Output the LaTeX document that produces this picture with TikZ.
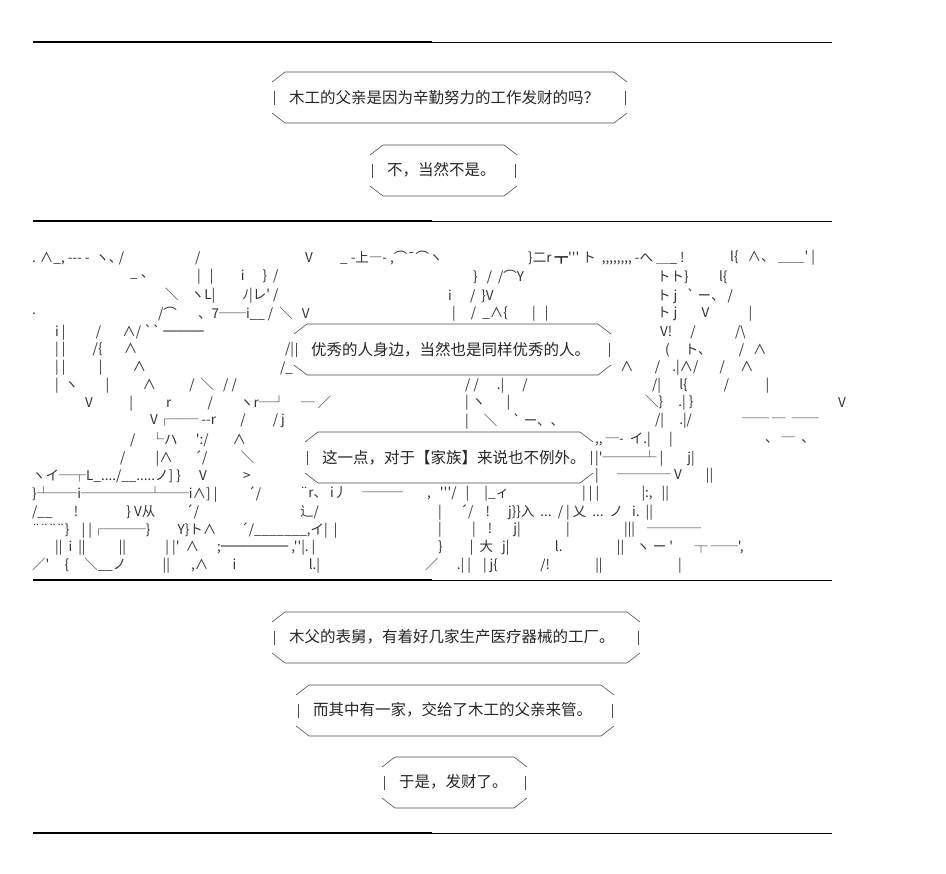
\documentclass[tikz,border=0pt]{standalone}
\usepackage{fontspec}
\setmainfont{Noto Sans CJK SC}
\newfontfamily\artfont{Noto Sans CJK SC}
\usetikzlibrary{positioning}

\tikzset{
  caption/.style={font=\fontsize{15.5}{17}\selectfont, inner sep=0pt, anchor=west, text=black!85},
  frame/.style={line width=0.6pt, draw=black!70},
  rule/.style={line width=1.4pt},
  art/.style={font=\artfont\fontsize{13.5}{15}\selectfont, anchor=west, inner sep=0pt, text=black!80},
}
% octagon box, sides left open for the bar glyphs
\newcommand{\talkbox}[3]{%
  \draw[frame] (#1,#2+10) -- (#1+13,#2) -- (#3-13,#2) -- (#3,#2+10);
  \draw[frame] (#1,#2+41) -- (#1+13,#2+51) -- (#3-13,#2+51) -- (#3,#2+41);
  \draw[frame] (#1+2,#2+19) -- (#1+2,#2+33);
  \draw[frame] (#3-2,#2+19) -- (#3-2,#2+33);}
\newcommand{\artline}[3]{\node[art] at (#1,#2) {#3};}

\begin{document}
\begin{tikzpicture}[x=1pt,y=-1pt]
  \useasboundingbox (0,0) rectangle (946,874);

  % horizontal rules
  \foreach \yy in {42,221,580,833} {
    \draw[rule] (33,\yy) -- (432,\yy);
    \draw[line width=0.8pt] (432,\yy) -- (832,\yy);
  }

  % top captions
  \talkbox{272}{72}{627}
  \node (q1) [caption] at (289,98) {木工的父亲是因为辛勤努力的工作发财的吗？};
  \talkbox{370}{145}{517}
  \node (a1) [caption] at (387,170) {不，当然不是。};

  % the scene
  \artline{32}{258}{. ∧\_, --- -\ \ ヽ､ /}
  \artline{195}{258}{/}
  \artline{305}{258}{V}
  \artline{340}{258}{\_ -上―- ,⌒¯⌒ヽ}
  \artline{528}{258}{\}二r ┳''' ト\ \ ,,,,,,,, -へ ＿\_ !}
  \artline{730}{258}{l\{\ \ \ ∧、 ＿＿'\ |}
  \artline{130}{277}{\_ 、}
  \artline{197}{277}{|\ \ \ |\ \ \ \ \ \ \ \ \ i\ \ \ \ \ \ \}\ \ /}
  \artline{473}{277}{\}\ \ \ /\ \ /⌒Y}
  \artline{657}{277}{トト\}\ \ \ \ \ \ \ \ \ \ l\{}
  \artline{165}{296}{＼\ \ \ \ ヽL|\ \ \ \ \ \ \ \ \ ﾉ|レ' /}
  \artline{448}{296}{i\ \ \ \ \ \ /\ \ \}V}
  \artline{657}{296}{ト j\ \ \ ` ー、 /}
  \artline{32}{314}{.}
  \artline{158}{314}{/⌒\ \ \ \ \ \ \ 、7──i\_\_ /\ \ ＼\ \ \ V}
  \artline{452}{314}{|\ \ \ \ \ /\ \ \_∧\{\ \ \ \ \ \ \ \ |\ \ \ |}
  \artline{657}{314}{ト j\ \ \ \ \ \ \ \ V\ \ \ \ \ \ \ \ \ \ \ \ \ |}
  \artline{55}{332}{i |\ \ \ \ \ \ \ \ \ \ /\ \ \ \ \ \ \ ∧/ `` ═══}
  \artline{660}{332}{V!\ \ \ \ \ \ /\ \ \ \ \ \ \ \ \ \ \ \ \ /\textbackslash}
  \artline{55}{350}{| |\ \ \ \ \ \ \ \ \ /\{\ \ \ \ \ \ \ ∧}
  \artline{285}{350}{/|}
  \artline{665}{350}{(\ \ \ \ \ ト、\ \ \ \ \ \ \ \ \ /\ \ \ ∧}
  \artline{55}{368}{| |\ \ \ \ \ \ \ \ \ \ \ |\ \ \ \ \ \ \ \ \ \ ∧}
  \artline{280}{368}{/\_}
  \artline{620}{368}{∧\ \ \ \ \ \ \ /\ \ \ \ .|∧/\ \ \ \ \ \ \ /\ \ \ \ \ ∧}
  \artline{55}{386}{|\ \ ヽ\ \ \ \ \ \ \ \ \ |\ \ \ \ \ \ \ \ \ \ \ ∧\ \ \ \ \ \ \ \ \ \ \ /\ \ ＼\ \ \ /\ /}
  \artline{465}{386}{/ /\ \ \ \ \ \ .|\ \ \ \ \ \ /}
  \artline{652}{386}{/|\ \ \ \ \ \ l\{\ \ \ \ \ \ \ \ \ \ \ \ /\ \ \ \ \ \ \ \ \ \ \ \ |}
  \artline{85}{403}{V\ \ \ \ \ \ \ \ \ \ \ \ |\ \ \ \ \ \ \ \ \ \ \ r\ \ \ \ \ \ \ \ \ \ \ \ /\ \ \ \ \ \ \ \ \ ヽr─┘\ \ \ \ \ ─ ／}
  \artline{465}{403}{|\ ヽ\ \ \ \ \ \ \ |}
  \artline{645}{403}{＼\}\ \ \ \ \ .|\ \}}
  \artline{838}{403}{V}
  \artline{150}{421}{V┌── --r\ \ \ \ \ \ \ \ /\ \ \ \ \ \ \ \ \ / j}
  \artline{465}{421}{|\ \ \ \ \ ＼\ \ \ \ \ ` ー、、}
  \artline{655}{421}{/|\ \ \ \ \ .|/}
  \artline{742}{421}{── ─\ \ ──}
  \artline{130}{440}{/\ \ \ \ \ └ハ\ \ \ \ \ \ ':/\ \ \ \ \ \ \ \ ∧}
  \artline{595}{440}{,, ─-\ \ イ.|\ \ \ \ \ \ |}
  \artline{765}{440}{、 ─\ \ 、}
  \artline{120}{458}{/\ \ \ \ \ \ \ \ \ \ |∧\ \ \ \ \ \ \ ´/\ \ \ \ \ \ \ \ \ \ \ ＼}
  \artline{595}{458}{|'───┴ |\ \ \ \ \ \ \ \ j|}
  \artline{32}{476}{ヽイ─┬L\_..../\_\_.....ノ] \}\ \ \ \ \ \ V\ \ \ \ \ \ \ \ \ \ \ \ >}
  \artline{595}{476}{|\ \ \ \ \ \ ────\ V\ \ \ \ \ \ \ \ ||}
  \artline{32}{494}{\}┴──i─────┴──i∧] |\ \ \ \ \ \ \ \ \ \ ´/}
  \artline{300}{494}{¨r、 i丿\ \ \ \ \ ───\ \ \ \ \ \ \ \ ,\ \ \ '''/\ \ \ |\ \ \ \ \ |\_ィ}
  \artline{582}{494}{|\ |\ |\ \ \ \ \ \ \ \ \ \ \ \ \ \ |:,\ \ \ ||}
  \artline{32}{512}{/\_\_\ \ \ \ \ \ \ !\ \ \ \ \ \ \ \ \ \ \ \ \ \ \ \ \}\ V从\ \ \ \ \ \ \ \ \ \ ´/}
  \artline{300}{512}{辶/}
  \artline{438}{512}{|\ \ \ \ \ \ ´/\ \ \ \ !\ \ \ \ \ \ j\}\}入\ \ ...\ \ / |\ 乂\ \ ...\ \ ノ\ \ \ i.\ \ ||}
  \artline{32}{530}{¨¨¨¨\}\ \ \ \ |\ |┌───\}\ \ \ \ \ \ \ \ \ Y\}ト∧\ \ \ \ \ \ \ \ ´/\_\_\_\_\_\_\_,イ|\ \ |}
  \artline{438}{530}{|\ \ \ \ \ \ \ \ \ \ |\ \ \ \ !\ \ \ \ \ \ \ j|\ \ \ \ \ \ \ \ \ \ \ \ \ \ \ |\ \ \ \ \ \ \ \ \ \ \ \ \ \ \ \ \ \ |||\ \ \ \ ────}
  \artline{55}{548}{||\ \ i\ \ ||\ \ \ \ \ \ \ \ \ \ \ ||\ \ \ \ \ \ \ \ \ \ \ \ \ |\ |'\ \ ∧\ \ \ \ \ \ ;═════\ ,''|.\ |}
  \artline{438}{548}{\}\ \ \ \ \ \ \ \ \ |\ \ 大\ \ \ j|\ \ \ \ \ \ \ \ \ \ \ \ \ \ \ l.\ \ \ \ \ \ \ \ \ \ \ \ \ \ \ \ \ \ ||\ \ \ \ ヽ\ ー '\ \ \ \ \ \ \ ┬ ──',}
  \artline{32}{566}{／'\ \ \ \ \ \{\ \ \ \ \ ＼\_\_ノ\ \ \ \ \ \ \ \ \ \ \ \ ||\ \ \ \ \ \ \ ,∧\ \ \ \ \ \ \ \ i\ \ \ \ \ \ \ \ \ \ \ \ \ \ \ \ \ \ \ \ \ \ \ \ l.|}
  \artline{425}{566}{／\ \ \ \ \ \ .| |\ \ \ \ |\ j\{\ \ \ \ \ \ \ \ \ \ \ \ \ \ /!\ \ \ \ \ \ \ \ \ \ \ \ \ \ \ ||\ \ \ \ \ \ \ \ \ \ \ \ \ \ \ \ \ \ \ \ \ \ \ \ \ |}

  % captions inside the scene, on white
  \fill[white] (294,324) rectangle (611,375);
  \talkbox{294}{324}{611}
  \node (s1) [caption] at (311,350) {优秀的人身边，当然也是同样优秀的人。};
  \fill[white] (305,432) rectangle (593,484);
  \talkbox{305}{432}{593}
  \node (s2) [caption] at (322,458) {这一点，对于【家族】来说也不例外。};

  % bottom captions
  \talkbox{272}{612}{640}
  \node (b1) [caption] at (289,637) {木父的表舅，有着好几家生产医疗器械的工厂。};
  \talkbox{296}{685}{614}
  \node (b2) [caption] at (313,710) {而其中有一家，交给了木工的父亲来管。};
  \talkbox{382}{757}{527}
  \node (b3) [caption] at (399,782) {于是，发财了。};
\end{tikzpicture}
\end{document}
